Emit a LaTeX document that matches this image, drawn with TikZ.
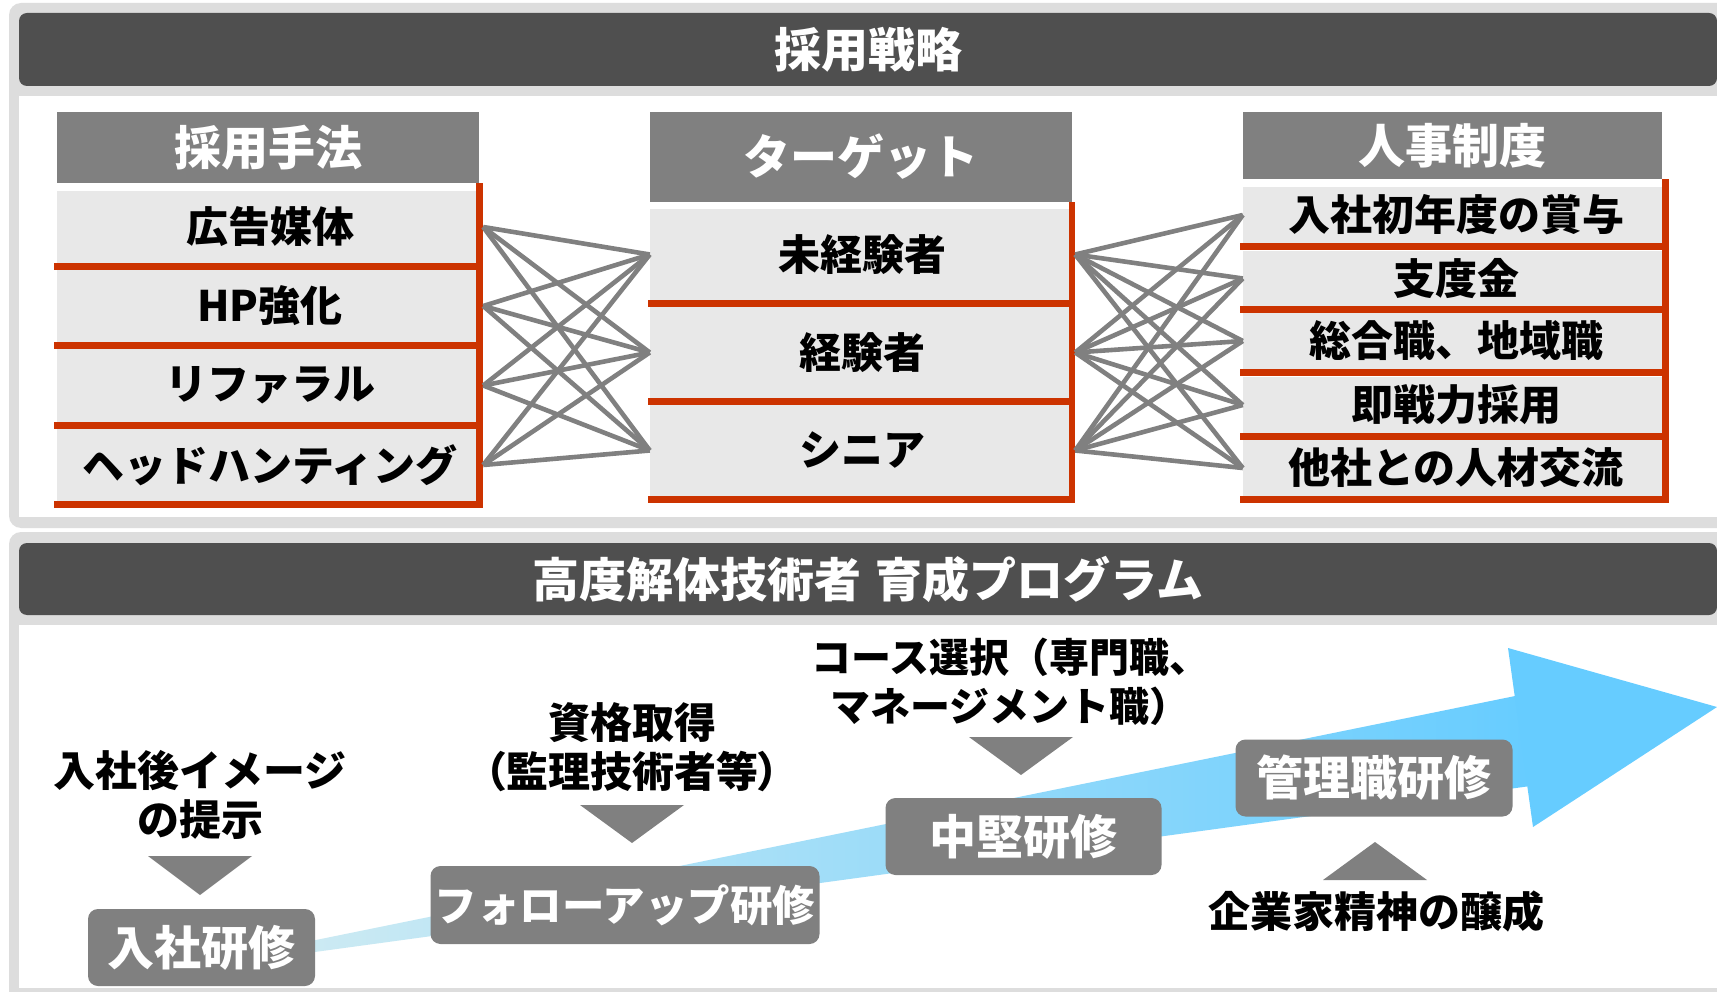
\documentclass[tikz,border=0pt]{standalone}
\usepackage{fontspec}
\setmainfont{Noto Sans CJK JP}
\newfontfamily\jppalt{Noto Sans CJK JP}[RawFeature=+palt]
\definecolor{framegray}{HTML}{DDDDDD}
\definecolor{darkhdr}{HTML}{4F4F4F}
\definecolor{hdrgray}{HTML}{808080}
\definecolor{rowgray}{HTML}{E8E8E8}
\definecolor{redc}{HTML}{CC3300}
\definecolor{linkgray}{HTML}{808080}
\definecolor{arrowpale}{HTML}{DAEEF1}
\definecolor{arrowmid}{HTML}{A3DBF3}
\definecolor{arrowblue}{HTML}{66CCFF}
\tikzset{
  paneltitle/.style={text=white, inner sep=0pt, font=\bfseries\fontsize{47}{52}\selectfont},
  colhdr/.style={fill=hdrgray, text=white, inner sep=0pt, font=\bfseries\fontsize{47}{52}\selectfont},
  item/.style={fill=rowgray, text=black, inner sep=0pt, minimum width=426pt, font=\bfseries\fontsize{42}{46}\selectfont},
  redbar/.style={fill=redc},
  link/.style={draw=linkgray, line width=4.6pt},
  stagebox/.style={fill=hdrgray, text=white, rounded corners=10pt, inner sep=0pt, font=\bfseries\fontsize{47}{52}\selectfont},
  lbl/.style={text=black, align=center, inner sep=0pt, font=\bfseries\fontsize{42}{49}\selectfont},
  tri/.style={fill=hdrgray}
}
\begin{document}
\begin{tikzpicture}[x=1pt,y=-1pt]
\clip (0,0) rectangle (1717,992);
\fill[white] (0,0) rectangle (1717,992);

% ---------- panel 1 ----------
\fill[framegray, rounded corners=12pt] (9,3) rectangle (1745,528);
\fill[white] (19,96) rectangle (1745,517);
\fill[darkhdr, rounded corners=8pt] (19,13) rectangle (1717,86);
\node[paneltitle] (t1) at (868,49.5) {採用戦略};

% column 1
\node[colhdr, minimum width=422pt, minimum height=71pt] (h1) at (268,147.5) {採用手法};
\node[item, minimum height=72pt] (a1) at (270,227) {広告媒体};
\node[item, minimum height=72pt] (a2) at (270,306) {HP強化};
\node[item, minimum height=73pt] (a3) at (270,385.5) {リファラル};
\node[item, minimum height=72pt] (a4) at (270,465) {ヘッドハンティング};
\foreach \y in {263,342,422,501} \fill[redbar] (54,\y) rectangle (483,\y+7);
\fill[redbar] (476,183) rectangle (483,508);

% column 2
\node[colhdr, minimum width=422pt, minimum height=90pt] (h2) at (861,157) {ターゲット};
\node[item, minimum width=425pt, minimum height=91pt] (b1) at (862.5,254.5) {未経験者};
\node[item, minimum width=425pt, minimum height=91pt] (b2) at (862.5,352.5) {経験者};
\node[item, minimum width=425pt, minimum height=91pt] (b3) at (862.5,450.5) {シニア};
\foreach \y in {300,398,496} \fill[redbar] (648,\y) rectangle (1075,\y+7);
\fill[redbar] (1069,202) rectangle (1075,503);

% column 3
\node[colhdr, minimum width=419pt, minimum height=67pt] (h3) at (1452.5,145.5) {人事制度};
\node[item, minimum height=56pt] (c1) at (1456,215) {入社初年度の賞与};
\node[item, minimum height=55pt] (c2) at (1456,278.5) {支度金};
\node[item, minimum height=56pt] (c3) at (1456,341) {総合職、地域職};
\node[item, minimum height=56pt] (c4) at (1456,405) {即戦力採用};
\node[item, minimum height=56pt] (c5) at (1456,468) {他社との人材交流};
\foreach \y in {243,306,369,433,496} \fill[redbar] (1240,\y) rectangle (1669,\y+7);
\fill[redbar] (1662,179) rectangle (1669,503);

% connectors
\foreach \i in {1,...,4} \foreach \j in {1,2,3} \draw[link] (a\i.east) -- (b\j.west);
\foreach \i in {1,2,3} \foreach \j in {1,...,5} \draw[link] (b\i.east) -- (c\j.west);

% ---------- panel 2 ----------
\fill[framegray, rounded corners=12pt] (9,532) rectangle (1745,1010);
\fill[white] (19,625) rectangle (1745,988);
\fill[darkhdr, rounded corners=8pt] (19,543) rectangle (1717,615);
\node[paneltitle] (t2) at (868,579) {高度解体技術者\hspace{0.3em}育成プログラム};

% arrow
\shade[left color=arrowpale, middle color=arrowmid, right color=arrowblue]
  (139,976) -- (1525,694) -- (1538,785) -- cycle;
\fill[arrowblue] (1508,648) -- (1717,707) -- (1533,827) -- cycle;

% stage boxes
\node[stagebox, minimum width=227pt, minimum height=77pt] (s1) at (201.5,947.5) {入社研修};
\node[stagebox, minimum width=389pt, minimum height=78pt, font=\bfseries\fontsize{42.5}{46}\selectfont] (s2) at (625,905) {フォローアップ研修};
\node[stagebox, minimum width=276pt, minimum height=77pt] (s3) at (1023.5,836.5) {中堅研修};
\node[stagebox, minimum width=277pt, minimum height=77pt] (s4) at (1374,778) {管理職研修};

% labels
\node[lbl] (l1) at (200,794.5) {入社後イメージ\\の提示};
\node[lbl] (l2) at (632,747) {資格取得\\{\jppalt\bfseries （}監理技術者等{\jppalt\bfseries ）}};
\node[lbl, font=\bfseries\fontsize{40}{49}\selectfont] (l3) at (1010,681.5) {コース選択（専門職、\\マネージメント職）};
\node[lbl] (l4) at (1376,911) {企業家精神の醸成};

% triangles
\fill[tri] (148,856) -- (252,856) -- (200,895) -- cycle;
\fill[tri] (580,805) -- (684,805) -- (632,843) -- cycle;
\fill[tri] (969,737) -- (1073,737) -- (1021,775) -- cycle;
\fill[tri] (1323,880) -- (1427,880) -- (1375,842) -- cycle;
\end{tikzpicture}
\end{document}
